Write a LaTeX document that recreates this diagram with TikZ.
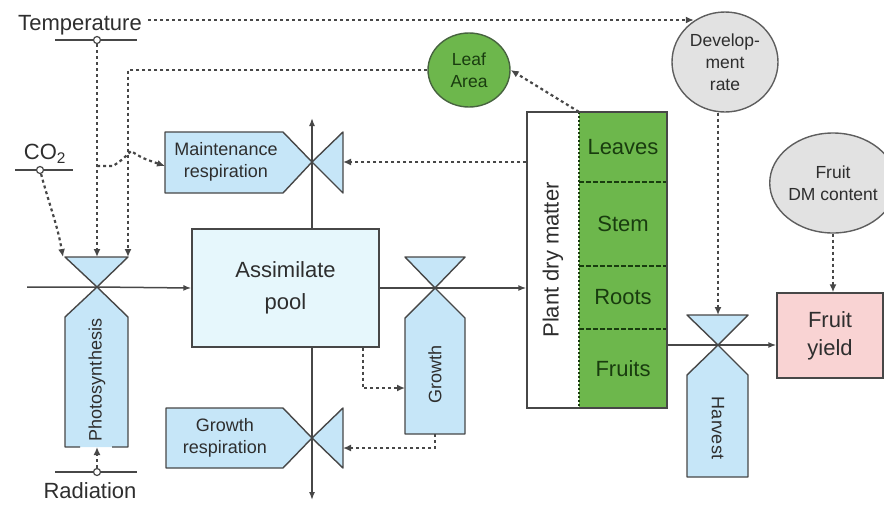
\documentclass[tikz,border=0pt]{standalone}
\usepackage{fontspec}
\setmainfont{Liberation Sans}
\usepackage{tikz}
\usetikzlibrary{shapes.geometric, arrows.meta}
\definecolor{linecol}{HTML}{474747}
\definecolor{textcol}{HTML}{2E2E2E}
\definecolor{valvecol}{HTML}{C6E6F8}
\definecolor{poolcol}{HTML}{E6F7FC}
\definecolor{plantgreen}{HTML}{6DB74C}
\definecolor{leafdark}{RGB}{25,60,15}
\definecolor{auxgrey}{HTML}{E2E2E2}
\definecolor{auxborder}{HTML}{5E5E5E}
\definecolor{yieldcol}{HTML}{F9D3D3}
\tikzstyle{envtext} = [inner sep=0pt, text=textcol, font=\fontsize{22}{26}\selectfont]
\tikzstyle{sensor} = [circle, draw=linecol, fill=white, line width=1.2pt, inner sep=0pt, minimum size=7pt]
\tikzstyle{valve} = [draw=linecol, fill=valvecol, line width=1.4pt, line join=round]
\tikzstyle{valvetext} = [inner sep=0pt, text=textcol, font=\fontsize{18}{20}\selectfont]
\tikzstyle{tagtext} = [align=center, text=textcol, font=\fontsize{18}{22}\selectfont]
\tikzstyle{store} = [rectangle, draw=linecol, line width=1.4pt, align=center, text=textcol, font=\fontsize{22}{32}\selectfont]
\tikzstyle{part} = [rectangle, minimum width=88pt, inner sep=0pt, text=leafdark, font=\fontsize{22}{26}\selectfont]
\tikzstyle{aux} = [ellipse, draw=auxborder, fill=auxgrey, line width=1.4pt, align=center, inner sep=0pt, text=textcol, font=\fontsize{17.5}{22}\selectfont]
\tikzstyle{flow} = [draw=linecol, line width=1.5pt, -{Latex[length=8pt,width=6pt]}]
\tikzstyle{info} = [draw=linecol, line width=2.2pt, dash pattern=on 3pt off 3pt, -{Latex[length=8pt,width=7pt]}]
\tikzstyle{divider} = [draw=leafdark, line width=1.5pt, dash pattern=on 5pt off 2pt]

\begin{document}
\begin{tikzpicture}[x=1pt, y=-1pt]
\useasboundingbox (0,0) rectangle (884,504);

% drivers
\node (temp) [envtext] at (80,25) {Temperature};
\draw [linecol, line width=1.3pt] (55,40) -- (137,40);
\node (tsens) [sensor] at (97,40) {};
\coordinate (tline) at (148,20);
\node (co2) [envtext] at (45,154) {CO\textsubscript{2}};
\draw [linecol, line width=1.3pt] (15,170) -- (73,170);
\node (csens) [sensor] at (40,170) {};
\node (rad) [envtext] at (90,491) {Radiation};
\draw [linecol, line width=1.3pt] (55,472) -- (137,472);
\node (rsens) [sensor] at (97,472) {};

% valve centres and connector ends
\coordinate (vphoto) at (97,287);
\coordinate (vmaint) at (312,162);
\coordinate (vgresp) at (312,438);
\coordinate (vgrowth) at (435,288);
\coordinate (vharv) at (718,345);
\coordinate (inflow) at (27,287);
\coordinate (pin1) at (63,257);
\coordinate (pin2) at (97,257);
\coordinate (pin3) at (128,257);
\coordinate (pbot) at (97,447);
\coordinate (tbranch) at (97,166);
\coordinate (min) at (165,166);
\coordinate (mtri) at (343,162);
\coordinate (mout) at (312,118);
\coordinate (gin) at (405,388);
\coordinate (gbot) at (435,434);
\coordinate (grtri) at (343,448);
\coordinate (gout) at (312,500);
\coordinate (htop) at (718,315);

% photosynthesis
\draw [valve] (65,257) -- (128,257) -- (vphoto) -- cycle;
\fill [valvecol] (vphoto) -- (128,317) -- (128,447) -- (65,447) -- (65,317) -- cycle;
\draw [linecol, line width=1.4pt, line join=round] (80,447) -- (65,447) -- (65,317) -- (vphoto) -- (128,317) -- (128,447) -- (112,447);
\node (photo) [valvetext, rotate=90] at (97,380) {Photosynthesis};

% maintenance respiration
\draw [valve] (vmaint) -- (343,132) -- (343,193) -- cycle;
\draw [valve] (165,132) -- (283,132) -- (vmaint) -- (283,193) -- (165,193) -- cycle;
\node (maint) [tagtext] at (226,162) {Maintenance\\respiration};

% growth respiration
\draw [valve] (vgresp) -- (343,408) -- (343,468) -- cycle;
\draw [valve] (166,408) -- (283,408) -- (vgresp) -- (283,468) -- (166,468) -- cycle;
\node (gresp) [tagtext] at (225,438) {Growth\\respiration};

% growth
\draw [valve] (405,257) -- (465,257) -- (vgrowth) -- cycle;
\draw [valve] (vgrowth) -- (465,318) -- (465,434) -- (405,434) -- (405,318) -- cycle;
\node (growth) [valvetext, rotate=90] at (435,374) {Growth};

% harvest
\draw [valve] (687,315) -- (748,315) -- (vharv) -- cycle;
\draw [valve] (vharv) -- (748,375) -- (748,477) -- (687,477) -- (687,375) -- cycle;
\node (harvest) [valvetext, rotate=-90] at (718,428) {Harvest};

% stores
\node (pool) [store, fill=poolcol, minimum width=187pt, minimum height=118pt] at (285.5,288) {Assimilate\\pool};
\node (yield) [store, fill=yieldcol, minimum width=106pt, minimum height=85pt, font=\fontsize{22}{28}\selectfont] at (830,335.5) {Fruit\\yield};

\fill [plantgreen] (579,112) rectangle (667,408);
\draw [divider] (579,182) -- (667,182);
\draw [divider] (579,266) -- (667,266);
\draw [divider] (579,329) -- (667,329);
\draw [leafdark, line width=1.5pt, dash pattern=on 2pt off 2pt] (579,112) -- (579,408);
\node (leaves) [part, minimum height=70pt] at (623,147) {Leaves};
\node (stem) [part, minimum height=84pt] at (623,224) {Stem};
\node (roots) [part, minimum height=63pt] at (623,297.5) {Roots};
\node (fruits) [part, minimum height=79pt] at (623,368.5) {Fruits};
\node (plant) [rectangle, draw=linecol, line width=1.4pt, minimum width=140pt, minimum height=296pt] at (597,260) {};
\node (pdm) [envtext, rotate=90] at (553,260) {Plant dry matter};

% auxiliaries
\node (leaf) [ellipse, draw=leafdark!80, fill=plantgreen, line width=1.4pt, minimum width=82pt, minimum height=74pt] at (469,70) {};
\node (leaftext) [align=center, inner sep=0pt, text=leafdark, font=\fontsize{17.5}{22}\selectfont] at (leaf) {Leaf\\Area};
\node (devrate) [aux, minimum width=106pt, minimum height=100pt] at (725,62) {Develop-\\ment\\rate};
\node (fruitdm) [aux, minimum width=100pt, minimum height=100pt] at (833,183) {Fruit\\DM content};

% material flows
\draw [flow] (inflow) -- (vphoto) -- (pool.west);
\draw [flow] (pool.north -| vmaint) -- (mout);
\draw [flow] (pool.south -| vgresp) -- (gout);
\draw [flow] (pool.east) -- (pool.east -| plant.west);
\draw [flow] (vharv -| fruits.east) -- (vharv) -- (vharv -| yield.west);

% information flows
\draw [info] (tline) -- (tline -| devrate.127);
\draw [info] (tsens) -- (pin2);
\draw [info] (csens) to[out=-75, in=100] (pin1);
\draw [info] (leaf.west) -| (pin3);
\draw [info] (rsens) -- (pbot);
\draw [info] (tbranch) -- (113,166) .. controls (122,160) .. (131,151) .. controls (142,158) .. (min);
\draw [info] (plant.west |- vmaint) -- (mtri);
\draw [info] (leaves.north west) -- (leaf.east);
\draw [info] ([xshift=-17pt]pool.south east) |- (gin);
\draw [info] (gbot) |- (grtri);
\draw [info] (devrate.south -| vharv) -- (htop);
\draw [info] (fruitdm.south) -- (fruitdm.south |- yield.north);

\end{tikzpicture}
\end{document}
